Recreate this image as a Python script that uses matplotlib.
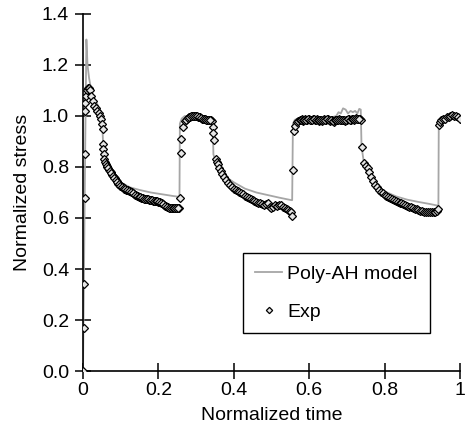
import matplotlib
matplotlib.use("Agg")
import matplotlib.pyplot as plt
from matplotlib.ticker import FixedLocator

plt.rcParams['font.family'] = ['Liberation Sans', 'DejaVu Sans']

# ---- data ----
model_t = [0.000, 0.006, 0.009, 0.012, 0.016, 0.022, 0.030, 0.040, 0.048, 0.051, 0.054,
           0.058, 0.065, 0.080, 0.100, 0.125, 0.150, 0.180, 0.210, 0.240, 0.256,
           0.257, 0.262, 0.270, 0.300, 0.320, 0.344, 0.346, 0.352, 0.360, 0.380,
           0.400, 0.430, 0.460, 0.490, 0.520, 0.553, 0.555, 0.557, 0.562, 0.570,
           0.600, 0.630, 0.660, 0.672, 0.678, 0.684, 0.690, 0.697, 0.703, 0.710,
           0.716, 0.722, 0.728, 0.733, 0.737, 0.739, 0.745, 0.760, 0.780, 0.800,
           0.830, 0.860, 0.890, 0.920, 0.943, 0.944, 0.950, 0.970, 1.000]
model_s = [0.00, 0.90, 1.30, 1.20, 1.15, 1.10, 1.07, 1.04, 1.01, 0.97, 0.87,
           0.82, 0.80, 0.77, 0.74, 0.72, 0.71, 0.70, 0.693, 0.686, 0.683,
           0.97, 0.99, 1.00, 1.00, 0.995, 0.99, 0.85, 0.82, 0.80, 0.76,
           0.74, 0.715, 0.70, 0.69, 0.68, 0.67, 0.67, 0.97, 0.985, 0.99,
           0.995, 0.99, 0.995, 1.00, 1.015, 1.01, 1.03, 1.025, 1.01, 1.02,
           1.015, 1.02, 1.01, 1.028, 1.025, 0.88, 0.82, 0.77, 0.73, 0.705,
           0.685, 0.672, 0.663, 0.655, 0.648, 0.98, 0.99, 1.00, 1.00]

exp_t = [0.000, 0.002, 0.003, 0.004, 0.005, 0.005, 0.006, 0.008, 0.010, 0.013,
         0.016, 0.019, 0.022, 0.026, 0.030, 0.034, 0.038, 0.042, 0.046, 0.049,
         0.050, 0.052, 0.053, 0.054, 0.055, 0.057, 0.059, 0.062, 0.065, 0.069,
         0.073, 0.077, 0.081, 0.085, 0.089, 0.093, 0.097, 0.101, 0.105, 0.110,
         0.115, 0.120, 0.125, 0.130, 0.135, 0.140, 0.145, 0.150, 0.155, 0.160,
         0.165, 0.170, 0.175, 0.180, 0.185, 0.190, 0.195, 0.200, 0.205, 0.210,
         0.215, 0.220, 0.225, 0.230, 0.235, 0.240, 0.245, 0.250, 0.255, 0.258,
         0.259, 0.260, 0.265, 0.270, 0.275, 0.280, 0.285, 0.290, 0.295, 0.300,
         0.305, 0.310, 0.315, 0.320, 0.325, 0.330, 0.335, 0.340, 0.343, 0.345,
         0.346, 0.347, 0.352, 0.355, 0.358, 0.362, 0.366, 0.370, 0.375, 0.380,
         0.385, 0.390, 0.395, 0.400, 0.405, 0.410, 0.415, 0.420, 0.425, 0.430,
         0.435, 0.440, 0.445, 0.450, 0.455, 0.460, 0.465, 0.470, 0.475, 0.480,
         0.485, 0.490, 0.495, 0.500, 0.505, 0.510, 0.515, 0.520, 0.525, 0.530,
         0.535, 0.540, 0.545, 0.550, 0.553, 0.555, 0.557, 0.560, 0.563, 0.567,
         0.571, 0.575, 0.580, 0.585, 0.590, 0.595, 0.600, 0.605, 0.610, 0.615,
         0.620, 0.625, 0.630, 0.635, 0.640, 0.645, 0.650, 0.655, 0.660, 0.665,
         0.670, 0.675, 0.680, 0.685, 0.690, 0.695, 0.700, 0.705, 0.710, 0.715,
         0.720, 0.725, 0.730, 0.735, 0.738, 0.741, 0.745, 0.750, 0.755, 0.760,
         0.765, 0.770, 0.775, 0.780, 0.785, 0.790, 0.795, 0.800, 0.805, 0.810,
         0.815, 0.820, 0.825, 0.830, 0.835, 0.840, 0.845, 0.850, 0.855, 0.860,
         0.865, 0.870, 0.875, 0.880, 0.885, 0.890, 0.895, 0.900, 0.905, 0.910,
         0.915, 0.920, 0.925, 0.930, 0.935, 0.940, 0.942, 0.944, 0.946, 0.950,
         0.955, 0.960, 0.965, 0.970, 0.975, 0.980, 0.985, 0.990, 0.995, 1.000]
exp_s = [0.00, 0.17, 0.34, 0.68, 0.85, 1.02, 1.05, 1.08, 1.10, 1.11,
         1.11, 1.10, 1.08, 1.06, 1.04, 1.03, 1.02, 1.01, 1.00, 0.99,
         0.97, 0.95, 0.89, 0.87, 0.85, 0.83, 0.82, 0.81, 0.80, 0.79,
         0.78, 0.77, 0.76, 0.755, 0.745, 0.735, 0.73, 0.725, 0.72, 0.715,
         0.71, 0.71, 0.705, 0.70, 0.695, 0.69, 0.685, 0.683, 0.68, 0.678,
         0.675, 0.673, 0.672, 0.670, 0.668, 0.667, 0.666, 0.664, 0.662, 0.658,
         0.652, 0.646, 0.643, 0.640, 0.640, 0.641, 0.640, 0.638, 0.640, 0.68,
         0.856, 0.91, 0.955, 0.98, 0.99, 0.995, 0.998, 1.00, 1.00, 1.00,
         0.998, 0.995, 0.99, 0.99, 0.988, 0.985, 0.985, 0.984, 0.98, 0.958,
         0.932, 0.906, 0.83, 0.82, 0.81, 0.795, 0.783, 0.772, 0.76, 0.748,
         0.738, 0.728, 0.72, 0.715, 0.71, 0.705, 0.70, 0.697, 0.693, 0.688,
         0.684, 0.680, 0.674, 0.670, 0.666, 0.664, 0.66, 0.657, 0.653, 0.650,
         0.655, 0.657, 0.645, 0.640, 0.645, 0.650, 0.648, 0.650, 0.650, 0.645,
         0.640, 0.637, 0.633, 0.628, 0.625, 0.608, 0.79, 0.94, 0.96, 0.975,
         0.982, 0.985, 0.987, 0.982, 0.988, 0.985, 0.990, 0.983, 0.988, 0.984,
         0.990, 0.982, 0.986, 0.980, 0.988, 0.984, 0.990, 0.982, 0.985, 0.978,
         0.986, 0.984, 0.988, 0.983, 0.986, 0.982, 0.985, 0.988, 0.984, 0.990,
         0.986, 0.992, 0.988, 0.990, 0.985, 0.877, 0.814, 0.805, 0.795, 0.78,
         0.76, 0.745, 0.73, 0.72, 0.71, 0.703, 0.698, 0.692, 0.688, 0.683,
         0.678, 0.675, 0.671, 0.668, 0.664, 0.66, 0.657, 0.654, 0.651, 0.648,
         0.645, 0.642, 0.64, 0.637, 0.634, 0.631, 0.628, 0.626, 0.625, 0.625,
         0.624, 0.625, 0.624, 0.625, 0.625, 0.626, 0.636, 0.965, 0.975, 0.984,
         0.988, 0.99, 0.995, 0.998, 1.00, 1.002, 1.00, 1.00, 0.998, 0.99]

# additional dense samples (plateaus / first relaxation)
exp2_t = [0.0635, 0.067, 0.071, 0.075, 0.079, 0.083, 0.087, 0.091, 0.095, 0.099,
          0.1025, 0.1075, 0.1125, 0.1175, 0.1225, 0.1275, 0.1325, 0.1375, 0.1425, 0.1475,
          0.1525, 0.1575, 0.1625, 0.1675, 0.1725, 0.1775, 0.1825, 0.1875, 0.1925, 0.1975,
          0.2025, 0.2075, 0.2125, 0.2175, 0.2225, 0.2275, 0.2325, 0.2375, 0.2425, 0.2475,
          0.2525,
          0.2725, 0.2775, 0.2825, 0.2875, 0.2925, 0.2975, 0.3025, 0.3075, 0.3125, 0.3175,
          0.3225, 0.3275, 0.3325, 0.3375,
          0.5775, 0.5825, 0.5875, 0.5925, 0.5975, 0.6025, 0.6075, 0.6125, 0.6175, 0.6225,
          0.6275, 0.6325, 0.6375, 0.6425, 0.6475, 0.6525, 0.6575, 0.6625, 0.6675, 0.6725,
          0.6775, 0.6825, 0.6875, 0.6925, 0.6975, 0.7025, 0.7075, 0.7125, 0.7175, 0.7225,
          0.7275, 0.7325]
exp2_s = [0.805, 0.795, 0.785, 0.775, 0.765, 0.757, 0.750, 0.740, 0.733, 0.727,
          0.722, 0.717, 0.712, 0.709, 0.707, 0.702, 0.697, 0.692, 0.687, 0.684,
          0.681, 0.679, 0.676, 0.674, 0.673, 0.671, 0.669, 0.667, 0.666, 0.665,
          0.663, 0.660, 0.655, 0.649, 0.644, 0.641, 0.640, 0.641, 0.640, 0.639,
          0.639,
          0.985, 0.993, 0.997, 0.999, 1.000, 1.000, 0.999, 0.996, 0.992, 0.990,
          0.989, 0.986, 0.985, 0.984,
          0.983, 0.985, 0.986, 0.984, 0.988, 0.986, 0.985, 0.987, 0.986, 0.985,
          0.984, 0.983, 0.985, 0.986, 0.987, 0.985, 0.984, 0.982, 0.983, 0.985,
          0.986, 0.985, 0.984, 0.984, 0.983, 0.987, 0.986, 0.987, 0.988, 0.989,
          0.990, 0.989]

x_ticks = [0, 0.2, 0.4, 0.6, 0.8, 1.0]
x_labels = ["0", "0.2", "0.4", "0.6", "0.8", "1"]
y_ticks = [0.0, 0.2, 0.4, 0.6, 0.8, 1.0, 1.2, 1.4]
y_labels = ["0.0", "0.2", "0.4", "0.6", "0.8", "1.0", "1.2", "1.4"]

fig = plt.figure(figsize=(4.65, 4.32), dpi=100)
ax = fig.add_axes([0.1785, 0.1412, 0.8105, 0.8264])

mk = dict(ls='none', marker='D', markersize=4, markerfacecolor='#e6e6e6',
          markeredgecolor='black', markeredgewidth=0.9)
ax.plot(model_t, model_s, color='#a6a6a6', lw=1.3, label='Poly-AH model', zorder=2)
ax.plot(exp_t, exp_s, label='Exp', zorder=3, **mk)
ax.plot(exp2_t, exp2_s, zorder=3, **mk)

ax.set_xlim(0, 1)
ax.set_ylim(0, 1.4)
ax.xaxis.set_major_locator(FixedLocator(x_ticks))
ax.set_xticklabels(x_labels)
ax.yaxis.set_major_locator(FixedLocator(y_ticks))
ax.set_yticklabels(y_labels)
for s in ['top', 'right']:
    ax.spines[s].set_visible(False)
for s in ['left', 'bottom']:
    ax.spines[s].set_linewidth(1.2)
ax.tick_params(axis='both', direction='inout', length=12, width=1.1, labelsize=14, colors='black')
ax.tick_params(axis='y', pad=4)
ax.tick_params(axis='x', pad=2)
for sp in ax.spines.values():
    sp.set_clip_on(False)

ax.set_xlabel('Normalized time', fontsize=14, labelpad=6)
ax.set_ylabel('Normalized stress', fontsize=14, labelpad=8)

leg = ax.legend(loc='upper left', bbox_to_anchor=(0.424, 0.331), fontsize=14,
                frameon=True, fancybox=False, edgecolor='black', framealpha=1,
                handlelength=1.4, handletextpad=0.25, labelspacing=1.06,
                borderpad=0.63, borderaxespad=0, markerscale=0.8)
leg.get_frame().set_linewidth(1.0)

fig.savefig('out.png', dpi=100)
